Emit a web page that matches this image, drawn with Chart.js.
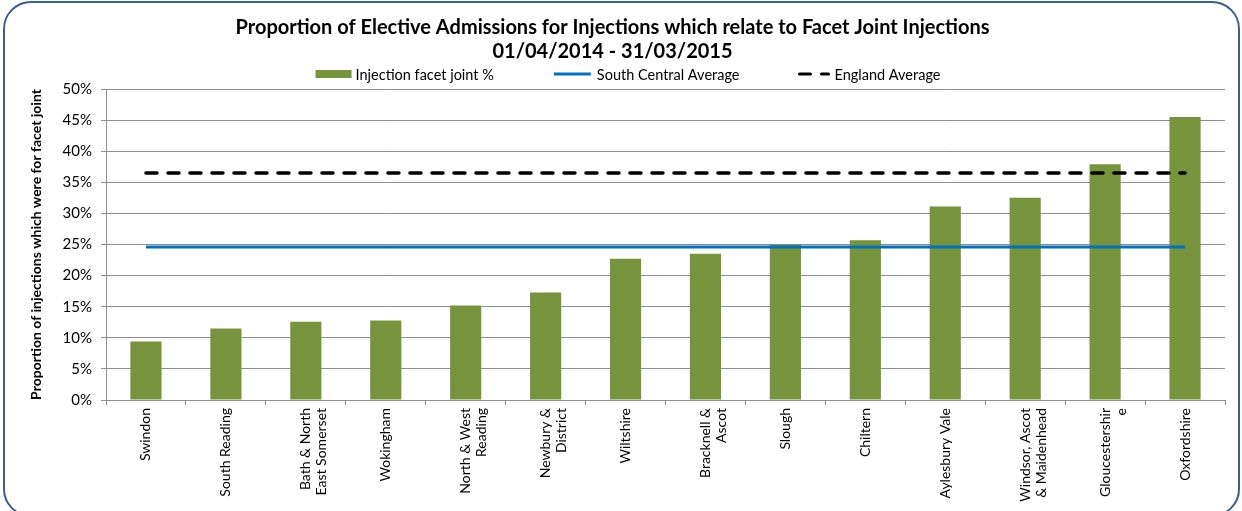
<!DOCTYPE html>
<html>
<head>
<meta charset="utf-8">
<title>Facet Joint Injections</title>
<script src="https://cdn.jsdelivr.net/npm/chart.js@4.4.1/dist/chart.umd.min.js"></script>
<style>
    html, body { margin: 0; padding: 0; background: #fff; overflow: hidden; }
    #frame {
        position: absolute; left: 3px; top: 1px; width: 1237px; height: 516px;
        border: 2.5px solid #3a5f92; border-radius: 28px; box-sizing: border-box;
    }
    #wrap { position: absolute; left: 0; top: 0; width: 1242px; height: 511px; }
</style>
</head>
<body>
<div id="frame"></div>
<div id="wrap"><canvas id="chart" width="1242" height="511"></canvas></div>
<script>
// Chart data
const categories = [
    'Swindon',
    'South Reading',
    ['Bath & North', 'East Somerset'],
    'Wokingham',
    ['North & West', 'Reading'],
    ['Newbury &', 'District'],
    'Wiltshire',
    ['Bracknell &', 'Ascot'],
    'Slough',
    'Chiltern',
    'Aylesbury Vale',
    ['Windsor, Ascot', '& Maidenhead'],
    ['Gloucestershir', 'e'],
    'Oxfordshire'
];
const facetJointPct = [9.4, 11.5, 12.6, 12.8, 15.2, 17.3, 22.7, 23.5, 25.0, 25.7, 31.1, 32.5, 37.9, 45.5];
const southCentralAvg = [24.6, 24.6, 24.6, 24.6, 24.6, 24.6, 24.6, 24.6, 24.6, 24.6, 24.6, 24.6, 24.6, 24.6];
const englandAvg = [36.5, 36.5, 36.5, 36.5, 36.5, 36.5, 36.5, 36.5, 36.5, 36.5, 36.5, 36.5, 36.5, 36.5];
const yMin = 0;
const yMax = 50;
const yStep = 5;

const FONT = 'Lato';
const GRID = '#8e8e8e';

// Legend drawn by hand so the item spacing matches the Excel one
const excelLegend = {
    id: 'excelLegend',
    afterDraw(chart) {
        const ctx = chart.ctx;
        const y = 74;
        const gap = 58;
        const items = chart.data.datasets.map(ds => ({
            text: ds.label,
            type: ds.type,
            color: ds.type === 'bar' ? ds.backgroundColor : ds.borderColor,
            dash: ds.borderDash || [],
            w: ds.legendWidth
        }));
        ctx.save();
        ctx.font = '14.5px ' + FONT;
        ctx.textBaseline = 'middle';
        let total = 0;
        items.forEach((it, i) => {
            it.tw = ctx.measureText(it.text).width;
            total += it.w + 4 + it.tw + (i ? gap : 0);
        });
        let x = 628 - total / 2;
        items.forEach(it => {
            if (it.type === 'bar') {
                ctx.fillStyle = it.color;
                ctx.fillRect(x, y - 4, it.w, 8);
            } else {
                ctx.strokeStyle = it.color;
                ctx.lineWidth = 3;
                ctx.lineCap = it.dash.length ? 'round' : 'butt';
                ctx.setLineDash(it.dash);
                ctx.beginPath();
                ctx.moveTo(x + 2, y);
                ctx.lineTo(x + it.w - 2, y);
                ctx.stroke();
                ctx.setLineDash([]);
            }
            ctx.fillStyle = '#000';
            ctx.fillText(it.text, x + it.w + 4, y + 1);
            x += it.w + 4 + it.tw + gap;
        });
        ctx.restore();
    }
};

const ctx = document.getElementById('chart').getContext('2d');

new Chart(ctx, {
    data: {
        labels: categories,
        datasets: [
            {
                type: 'bar',
                label: 'Injection facet joint %',
                data: facetJointPct,
                backgroundColor: '#77933c',
                barPercentage: 0.39,
                categoryPercentage: 1,
                order: 3,
                legendWidth: 36
            },
            {
                type: 'line',
                label: 'South Central Average',
                data: southCentralAvg,
                borderColor: '#0070c0',
                borderWidth: 3,
                pointRadius: 0,
                fill: false,
                order: 2,
                legendWidth: 41
            },
            {
                type: 'line',
                label: 'England Average',
                data: englandAvg,
                borderColor: '#000000',
                borderWidth: 3.5,
                borderDash: [11, 11],
                borderCapStyle: 'round',
                pointRadius: 0,
                fill: false,
                order: 1,
                legendWidth: 33
            }
        ]
    },
    options: {
        responsive: false,
        animation: false,
        layout: {
            padding: { left: 0, right: 17, top: 0, bottom: 0 }
        },
        plugins: {
            legend: { display: false },
            tooltip: { enabled: false },
            title: {
                display: true,
                text: [
                    'Proportion of Elective Admissions for Injections which relate to Facet Joint Injections',
                    '01/04/2014 - 31/03/2015'
                ],
                color: '#000',
                font: { family: FONT, size: 20, weight: 'bold', lineHeight: 1.2 },
                padding: { top: 16, bottom: 25 }
            }
        },
        scales: {
            x: {
                offset: true,
                grid: {
                    offset: true,
                    drawOnChartArea: false,
                    drawTicks: true,
                    tickLength: 5,
                    color: GRID
                },
                border: { color: GRID },
                ticks: {
                    autoSkip: false,
                    maxRotation: 90,
                    minRotation: 90,
                    padding: 3,
                    color: '#000',
                    font: { family: FONT, size: 14, lineHeight: 1.15 }
                },
                afterFit: scale => { scale.height = 111; }
            },
            y: {
                min: yMin,
                max: yMax,
                grid: { color: GRID, tickLength: 5 },
                border: { color: GRID },
                ticks: {
                    stepSize: yStep,
                    padding: 9,
                    color: '#000',
                    font: { family: FONT, size: 15 },
                    callback: v => v + '%'
                },
                title: {
                    display: true,
                    text: 'Proportion of injections which were for facet joint',
                    color: '#000',
                    font: { family: FONT, size: 14, weight: 'bold' },
                    padding: { top: 28, bottom: 0 }
                },
                afterFit: scale => { scale.width = 106; }
            }
        }
    },
    plugins: [excelLegend]
});
</script>
</body>
</html>
